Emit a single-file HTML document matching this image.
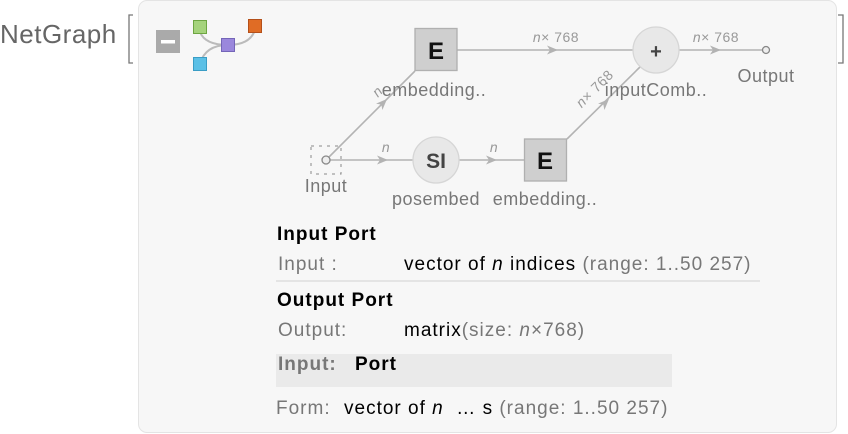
<!DOCTYPE html>
<html><head><meta charset="utf-8"><style>
body{margin:0;width:848px;height:434px;background:#fff;position:relative;overflow:hidden;font-family:"Liberation Sans",sans-serif;}
.a{position:absolute;white-space:nowrap;}
.t{font-size:19px;letter-spacing:1px;}
.g{color:#777}
</style></head><body>
<div class="a" style="left:0;top:19px;font-size:26px;letter-spacing:0.5px;color:#666;">NetGraph</div>
<div class="a" style="left:138px;top:0;width:697px;height:431px;background:#f7f7f7;border:1px solid #e4e4e4;border-radius:9px;"></div>
<svg class="a" style="left:0;top:0" width="848" height="434">
<path d="M133 15 H129 V63 H133" fill="none" stroke="#777" stroke-width="1.3"/>
<path d="M838 15 H843 V63 H838" fill="none" stroke="#777" stroke-width="1.3"/>
<rect x="156" y="30" width="24" height="23" fill="#aaa"/><rect x="161" y="40" width="14" height="3.5" fill="#fff"/>
<path d="M200 32 Q205 45 228 45 M255 30 Q250 45 228 45 M228 45 Q205 45 200 64" fill="none" stroke="#bbb" stroke-width="2"/>
<rect x="193.5" y="20.5" width="13" height="13" fill="#a5d37c" stroke="#6ea642"/>
<rect x="248.5" y="19.5" width="13" height="13" fill="#e06c25" stroke="#b4501a"/>
<rect x="221.5" y="38.5" width="13" height="13" fill="#9a87dc" stroke="#7465b8"/>
<rect x="193.5" y="57.5" width="13" height="13" fill="#5bc0e6" stroke="#3a9dc5"/>
<g stroke="#b3b3b3" stroke-width="1.6" fill="none">
<line x1="457" y1="50" x2="633" y2="50"/>
<line x1="679" y1="50" x2="762" y2="50"/>
<line x1="326" y1="160" x2="415" y2="71"/>
<line x1="330" y1="160" x2="413" y2="160"/>
<line x1="459" y1="160" x2="524" y2="160"/>
<line x1="567" y1="139" x2="640" y2="67"/>
</g>
<g fill="#b3b3b3">
<path d="M558 50 l-11 -4.5 l3 4.5 l-3 4.5z"/>
<path d="M721 50 l-11 -4.5 l3 4.5 l-3 4.5z"/>
<path d="M388 160 l-11 -4.5 l3 4.5 l-3 4.5z"/>
<path d="M497 160 l-11 -4.5 l3 4.5 l-3 4.5z"/>
<path transform="translate(387 99) rotate(-45)" d="M0 0 l-11 -4.5 l3 4.5 l-3 4.5z"/>
<path transform="translate(609 99) rotate(-45)" d="M0 0 l-11 -4.5 l3 4.5 l-3 4.5z"/>
</g>
<rect x="415" y="28.5" width="42" height="42" fill="#cfcfcf" stroke="#b0b0b0" stroke-width="1.3"/>
<rect x="524.5" y="139" width="42" height="42" fill="#cfcfcf" stroke="#b0b0b0" stroke-width="1.3"/>
<circle cx="436" cy="160" r="23" fill="#e8e8e8" stroke="#d6d6d6" stroke-width="1.3"/>
<circle cx="656" cy="50" r="23" fill="#e8e8e8" stroke="#d6d6d6" stroke-width="1.3"/>
<circle cx="326" cy="160" r="4" fill="#eee" stroke="#888" stroke-width="1.3"/>
<circle cx="766" cy="50" r="3.5" fill="#eee" stroke="#888" stroke-width="1.3"/>
<rect x="311" y="146" width="30" height="28" fill="none" stroke="#888" stroke-width="1" stroke-dasharray="3 5"/>
<g font-family="Liberation Sans,sans-serif" text-anchor="middle">
<text x="436" y="59" font-size="24" font-weight="bold" fill="#111">E</text>
<text x="545" y="169" font-size="24" font-weight="bold" fill="#111">E</text>
<text x="436" y="168" font-size="21" font-weight="bold" fill="#444">SI</text>
<text x="656" y="58" font-size="20" font-weight="bold" fill="#444">+</text>
<g font-size="18" fill="#777" letter-spacing="0.5">
<text x="434" y="96">embedding..</text>
<text x="436" y="205">posembed</text>
<text x="545" y="205">embedding..</text>
<text x="656" y="96">inputComb..</text>
<text x="766" y="82">Output</text>
<text x="326" y="192">Input</text>
</g>
<g font-size="14" fill="#999" letter-spacing="0.5">
<text x="556" y="42"><tspan font-style="italic">n</tspan>× 768</text>
<text x="716" y="42"><tspan font-style="italic">n</tspan>× 768</text>
<text x="386" y="152" font-style="italic">n</text>
<text x="494" y="152" font-style="italic">n</text>
<text x="378" y="96" font-style="italic" transform="rotate(-45 378 92)">n</text>
<text x="598" y="92" transform="rotate(-45 598 92)"><tspan font-style="italic">n</tspan>× 768</text>
</g>
</g>
<line x1="276" y1="281" x2="760" y2="281" stroke="#ddd" stroke-width="1.5"/>
<rect x="276" y="354" width="396" height="33" fill="#eaeaea"/>
</svg>
<div class="a t" style="left:277px;top:224px;font-weight:bold;">Input Port</div>
<div class="a t g" style="left:278px;top:254px;">Input :</div>
<div class="a t" style="left:404px;top:254px;">vector of <i>n</i> indices <span class="g">(range: 1..50 257)</span></div>
<div class="a t" style="left:277px;top:290px;font-weight:bold;">Output Port</div>
<div class="a t g" style="left:278px;top:320px;">Output:</div>
<div class="a t" style="left:404px;top:320px;">matrix<span class="g">(size: <i>n</i>×768)</span></div>
<div class="a t g" style="left:278px;top:354px;font-weight:bold;">Input:</div>
<div class="a t" style="left:355px;top:354px;font-weight:bold;">Port</div>
<div class="a t g" style="left:276px;top:398px;">Form:</div>
<div class="a t" style="left:344px;top:398px;">vector of <i>n</i>&nbsp; … s <span class="g">(range: 1..50 257)</span></div>
</body></html>
